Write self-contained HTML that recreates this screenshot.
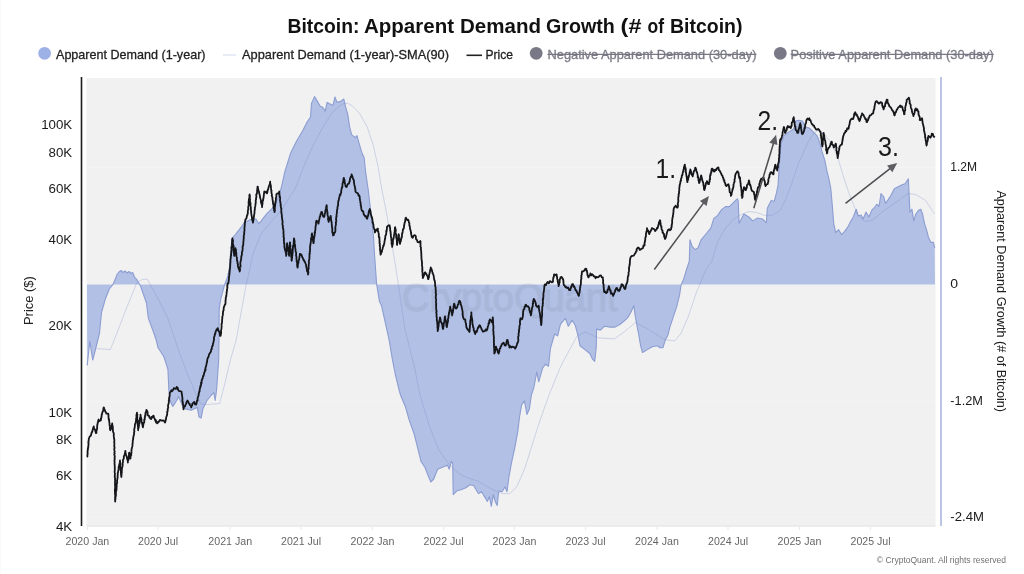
<!DOCTYPE html>
<html><head><meta charset="utf-8"><title>Bitcoin: Apparent Demand Growth</title>
<style>
html,body{margin:0;padding:0;background:#fff;}
body{width:1024px;height:574px;overflow:hidden;font-family:"Liberation Sans", sans-serif;}
svg{display:block;font-family:"Liberation Sans", sans-serif;}
</style></head><body>
<svg width="1024" height="574" viewBox="0 0 1024 574">
<rect x="0" y="0" width="1024" height="574" fill="#ffffff"/>
<rect x="0" y="0" width="1" height="574" fill="#fafafa"/>
<g opacity="0.999">
<!-- plot background -->
<rect x="86.5" y="78" width="849" height="448.5" fill="#f1f1f1"/>

<line x1="86.5" x2="935.5" y1="167.5" y2="167.5" stroke="#f4f4f4" stroke-width="1"/>
<line x1="86.5" x2="935.5" y1="284.5" y2="284.5" stroke="#f4f4f4" stroke-width="1"/>
<line x1="86.5" x2="935.5" y1="401.5" y2="401.5" stroke="#f4f4f4" stroke-width="1"/>
<line x1="86.5" x2="935.5" y1="517.5" y2="517.5" stroke="#f4f4f4" stroke-width="1"/>
<path d="M87,284.5 L87.2 365.4 L89.8 341.0 L92.7 360.0 L95.6 349.0 L99.5 333.0 L101.5 312.5 L105.4 298.8 L109.3 289.0 L113.2 284.2 L117.1 274.4 L119.0 272.0 L121.0 270.5 L123.0 272.5 L125.0 271.0 L127.0 273.0 L129.0 271.5 L131.0 273.5 L132.7 272.5 L134.5 277.0 L136.6 279.3 L140.5 286.0 L146.4 302.7 L148.4 318.4 L154.2 334.0 L156.2 340.0 L158.1 347.8 L164.0 357.0 L167.9 369.3 L168.9 390.8 L170.8 402.5 L172.8 406.4 L176.7 400.5 L178.6 396.6 L183.5 408.4 L191.3 410.3 L197.2 407.4 L199.1 417.1 L201.1 418.1 L203.0 408.4 L207.0 400.5 L210.9 395.7 L213.8 392.7 L215.2 400.5 L216.7 388.8 L218.7 359.5 L219.0 340.0 L219.2 308.6 L221.0 298.0 L224.5 285.0 L227.5 277.3 L229.5 267.7 L231.9 238.4 L235.4 234.5 L241.6 226.6 L244.2 222.7 L252.0 218.8 L256.0 219.0 L258.8 223.7 L261.2 220.8 L266.6 213.9 L272.5 208.1 L277.4 199.3 L281.3 187.6 L284.8 171.8 L289.1 158.0 L291.0 152.2 L296.9 140.5 L302.7 130.7 L306.6 122.9 L310.5 117.0 L311.5 103.4 L314.5 96.6 L317.4 101.4 L320.3 106.3 L322.7 107.3 L325.2 111.2 L327.1 102.4 L331.0 104.4 L333.0 105.3 L335.0 97.0 L336.9 102.4 L340.8 101.4 L343.8 99.0 L345.7 107.3 L347.7 114.1 L349.6 126.8 L351.6 134.6 L355.5 137.6 L357.0 135.6 L359.4 144.4 L361.7 152.2 L364.2 158.0 L365.6 171.8 L368.2 189.5 L370.2 207.1 L372.1 222.7 L373.7 239.0 L374.1 248.1 L376.6 284.0 L379.5 301.6 L381.5 305.6 L385.4 323.2 L389.3 340.8 L392.2 358.4 L395.2 374.0 L399.0 389.6 L400.5 395.0 L405.4 406.7 L409.3 420.4 L414.2 434.0 L418.1 449.7 L421.0 461.4 L424.9 467.3 L427.9 475.0 L430.8 482.0 L433.7 479.0 L437.6 469.2 L442.5 467.3 L447.4 465.3 L449.3 469.2 L451.3 461.4 L452.7 463.4 L453.2 494.6 L457.1 490.7 L461.0 489.7 L465.9 487.8 L469.8 484.8 L473.8 485.8 L476.7 490.7 L478.6 493.6 L481.6 491.7 L484.5 496.6 L487.4 501.4 L489.4 496.6 L491.3 506.3 L493.3 494.6 L495.2 501.4 L497.2 505.4 L498.8 490.7 L502.1 491.7 L505.0 486.8 L507.0 491.7 L508.9 477.0 L511.8 461.4 L514.8 447.7 L517.7 432.1 L519.6 416.5 L521.6 404.8 L524.5 400.9 L526.9 414.5 L529.4 408.7 L531.4 395.0 L533.8 387.7 L536.8 372.0 L538.7 381.8 L542.6 368.1 L545.5 364.2 L548.5 366.2 L550.4 348.6 L552.0 343.0 L554.6 334.0 L557.6 335.9 L560.5 324.2 L565.4 318.4 L568.3 326.2 L572.2 320.3 L575.2 325.2 L578.1 335.9 L580.0 345.7 L584.9 349.6 L589.8 353.5 L592.7 359.4 L594.7 361.3 L596.2 347.7 L596.6 329.1 L600.5 330.1 L604.5 326.2 L610.3 327.1 L615.2 327.1 L620.1 324.2 L625.0 320.3 L627.9 317.4 L630.8 312.5 L633.8 305.7 L635.3 316.4 L636.7 324.2 L638.6 334.0 L640.6 345.7 L642.5 352.5 L647.4 349.6 L652.3 346.7 L657.2 345.7 L660.1 347.7 L663.0 347.7 L665.0 340.8 L667.9 335.0 L669.9 327.1 L672.8 318.4 L676.7 306.6 L679.6 294.9 L681.0 285.2 L683.6 279.3 L686.5 269.5 L689.3 261.3 L689.9 239.8 L692.3 246.7 L695.2 249.6 L698.1 247.7 L701.1 239.8 L705.9 234.0 L710.8 228.1 L713.8 218.4 L717.7 215.4 L721.6 209.6 L725.5 206.6 L729.4 206.6 L733.3 202.7 L737.2 198.8 L738.2 200.8 L739.1 223.2 L742.1 217.4 L743.9 214.0 L748.8 217.0 L752.7 220.9 L757.6 218.0 L762.5 219.0 L766.4 222.9 L767.3 208.2 L771.2 200.4 L774.2 201.4 L776.1 194.5 L778.1 184.8 L779.1 167.0 L781.0 143.6 L783.9 135.8 L788.8 131.9 L793.7 129.0 L795.7 121.1 L798.6 120.2 L802.5 121.1 L805.4 127.0 L809.3 128.0 L814.2 132.9 L817.1 135.8 L820.1 143.6 L822.0 151.4 L825.0 161.2 L826.9 170.9 L828.9 178.8 L830.8 188.5 L832.2 204.3 L833.8 223.8 L835.7 232.6 L838.6 229.7 L841.6 234.6 L844.5 231.6 L847.4 227.7 L850.4 221.9 L853.3 217.0 L856.2 209.2 L858.2 216.0 L861.1 215.0 L863.0 219.0 L866.0 212.1 L868.9 217.0 L871.8 210.2 L874.8 207.2 L876.7 204.3 L879.1 206.2 L881.0 193.6 L883.6 196.5 L885.5 203.3 L888.4 199.4 L891.4 194.5 L894.3 188.7 L898.2 186.7 L902.1 184.8 L905.0 183.8 L908.4 178.9 L909.1 194.5 L909.9 212.1 L911.9 209.2 L913.8 220.9 L915.8 214.0 L918.7 210.2 L920.7 209.2 L922.6 214.0 L924.6 223.8 L926.5 229.7 L928.5 237.5 L931.0 242.4 L933.4 242.4 L934.7 248.2 L935,284.5 Z" fill="#b1c0e4" stroke="none"/>
<path d="M87.2 365.4 L89.8 341.0 L92.7 360.0 L95.6 349.0 L99.5 333.0 L101.5 312.5 L105.4 298.8 L109.3 289.0 L113.2 284.2 L117.1 274.4 L119.0 272.0 L121.0 270.5 L123.0 272.5 L125.0 271.0 L127.0 273.0 L129.0 271.5 L131.0 273.5 L132.7 272.5 L134.5 277.0 L136.6 279.3 L140.5 286.0 L146.4 302.7 L148.4 318.4 L154.2 334.0 L156.2 340.0 L158.1 347.8 L164.0 357.0 L167.9 369.3 L168.9 390.8 L170.8 402.5 L172.8 406.4 L176.7 400.5 L178.6 396.6 L183.5 408.4 L191.3 410.3 L197.2 407.4 L199.1 417.1 L201.1 418.1 L203.0 408.4 L207.0 400.5 L210.9 395.7 L213.8 392.7 L215.2 400.5 L216.7 388.8 L218.7 359.5 L219.0 340.0 L219.2 308.6 L221.0 298.0 L224.5 285.0 L227.5 277.3 L229.5 267.7 L231.9 238.4 L235.4 234.5 L241.6 226.6 L244.2 222.7 L252.0 218.8 L256.0 219.0 L258.8 223.7 L261.2 220.8 L266.6 213.9 L272.5 208.1 L277.4 199.3 L281.3 187.6 L284.8 171.8 L289.1 158.0 L291.0 152.2 L296.9 140.5 L302.7 130.7 L306.6 122.9 L310.5 117.0 L311.5 103.4 L314.5 96.6 L317.4 101.4 L320.3 106.3 L322.7 107.3 L325.2 111.2 L327.1 102.4 L331.0 104.4 L333.0 105.3 L335.0 97.0 L336.9 102.4 L340.8 101.4 L343.8 99.0 L345.7 107.3 L347.7 114.1 L349.6 126.8 L351.6 134.6 L355.5 137.6 L357.0 135.6 L359.4 144.4 L361.7 152.2 L364.2 158.0 L365.6 171.8 L368.2 189.5 L370.2 207.1 L372.1 222.7 L373.7 239.0 L374.1 248.1 L376.6 284.0 L379.5 301.6 L381.5 305.6 L385.4 323.2 L389.3 340.8 L392.2 358.4 L395.2 374.0 L399.0 389.6 L400.5 395.0 L405.4 406.7 L409.3 420.4 L414.2 434.0 L418.1 449.7 L421.0 461.4 L424.9 467.3 L427.9 475.0 L430.8 482.0 L433.7 479.0 L437.6 469.2 L442.5 467.3 L447.4 465.3 L449.3 469.2 L451.3 461.4 L452.7 463.4 L453.2 494.6 L457.1 490.7 L461.0 489.7 L465.9 487.8 L469.8 484.8 L473.8 485.8 L476.7 490.7 L478.6 493.6 L481.6 491.7 L484.5 496.6 L487.4 501.4 L489.4 496.6 L491.3 506.3 L493.3 494.6 L495.2 501.4 L497.2 505.4 L498.8 490.7 L502.1 491.7 L505.0 486.8 L507.0 491.7 L508.9 477.0 L511.8 461.4 L514.8 447.7 L517.7 432.1 L519.6 416.5 L521.6 404.8 L524.5 400.9 L526.9 414.5 L529.4 408.7 L531.4 395.0 L533.8 387.7 L536.8 372.0 L538.7 381.8 L542.6 368.1 L545.5 364.2 L548.5 366.2 L550.4 348.6 L552.0 343.0 L554.6 334.0 L557.6 335.9 L560.5 324.2 L565.4 318.4 L568.3 326.2 L572.2 320.3 L575.2 325.2 L578.1 335.9 L580.0 345.7 L584.9 349.6 L589.8 353.5 L592.7 359.4 L594.7 361.3 L596.2 347.7 L596.6 329.1 L600.5 330.1 L604.5 326.2 L610.3 327.1 L615.2 327.1 L620.1 324.2 L625.0 320.3 L627.9 317.4 L630.8 312.5 L633.8 305.7 L635.3 316.4 L636.7 324.2 L638.6 334.0 L640.6 345.7 L642.5 352.5 L647.4 349.6 L652.3 346.7 L657.2 345.7 L660.1 347.7 L663.0 347.7 L665.0 340.8 L667.9 335.0 L669.9 327.1 L672.8 318.4 L676.7 306.6 L679.6 294.9 L681.0 285.2 L683.6 279.3 L686.5 269.5 L689.3 261.3 L689.9 239.8 L692.3 246.7 L695.2 249.6 L698.1 247.7 L701.1 239.8 L705.9 234.0 L710.8 228.1 L713.8 218.4 L717.7 215.4 L721.6 209.6 L725.5 206.6 L729.4 206.6 L733.3 202.7 L737.2 198.8 L738.2 200.8 L739.1 223.2 L742.1 217.4 L743.9 214.0 L748.8 217.0 L752.7 220.9 L757.6 218.0 L762.5 219.0 L766.4 222.9 L767.3 208.2 L771.2 200.4 L774.2 201.4 L776.1 194.5 L778.1 184.8 L779.1 167.0 L781.0 143.6 L783.9 135.8 L788.8 131.9 L793.7 129.0 L795.7 121.1 L798.6 120.2 L802.5 121.1 L805.4 127.0 L809.3 128.0 L814.2 132.9 L817.1 135.8 L820.1 143.6 L822.0 151.4 L825.0 161.2 L826.9 170.9 L828.9 178.8 L830.8 188.5 L832.2 204.3 L833.8 223.8 L835.7 232.6 L838.6 229.7 L841.6 234.6 L844.5 231.6 L847.4 227.7 L850.4 221.9 L853.3 217.0 L856.2 209.2 L858.2 216.0 L861.1 215.0 L863.0 219.0 L866.0 212.1 L868.9 217.0 L871.8 210.2 L874.8 207.2 L876.7 204.3 L879.1 206.2 L881.0 193.6 L883.6 196.5 L885.5 203.3 L888.4 199.4 L891.4 194.5 L894.3 188.7 L898.2 186.7 L902.1 184.8 L905.0 183.8 L908.4 178.9 L909.1 194.5 L909.9 212.1 L911.9 209.2 L913.8 220.9 L915.8 214.0 L918.7 210.2 L920.7 209.2 L922.6 214.0 L924.6 223.8 L926.5 229.7 L928.5 237.5 L931.0 242.4 L933.4 242.4 L934.7 248.2" fill="none" stroke="#8c9dd2" stroke-width="1.1" stroke-linejoin="round"/>
<text x="402" y="311" font-size="38.5" fill="#5a6078" text-anchor="start" font-weight="normal" textLength="215.5" lengthAdjust="spacingAndGlyphs" opacity="0.09" stroke="#5a6078" stroke-width="1.3">CryptoQuant</text>
<polyline points="96.6,348.6 110.3,349.6 114.2,340.0 125.0,312.0 136.6,283.2 142.5,279.3 147.4,279.3 158.1,298.8 167.9,318.4 177.7,347.7 185.5,369.3 197.2,396.6 201.0,404.0 207.0,404.5 219.6,403.5 224.5,385.0 230.4,360.0 236.2,340.0 246.0,285.2 247.1,281.3 253.0,254.0 260.8,234.5 268.6,224.7 282.3,209.0 292.0,193.4 294.9,189.3 304.7,164.0 314.5,142.5 324.2,124.9 332.0,113.2 337.9,107.3 343.8,103.4 347.7,103.4 351.6,105.3 359.4,113.2 367.2,126.8 373.0,144.4 377.9,165.9 381.8,189.3 385.8,209.0 389.3,229.3 393.6,254.0 397.9,281.3 404.9,329.0 414.7,368.1 420.0,395.0 428.8,424.3 438.6,449.7 448.4,463.4 458.1,473.1 467.9,478.0 477.7,481.0 487.4,486.8 497.2,491.7 503.0,493.6 509.9,493.6 516.7,486.8 524.5,469.2 534.3,438.0 542.1,414.5 549.0,395.0 560.0,368.1 563.4,361.3 577.1,335.9 584.9,332.0 598.6,337.9 614.2,338.9 624.0,332.0 635.7,322.3 649.4,330.1 665.0,339.8 674.8,340.8 680.6,334.0 688.4,316.4 696.2,293.0 706.0,269.5 711.8,261.3 717.7,241.8 725.5,228.1 733.3,219.3 741.1,214.5 748.9,211.5 756.7,212.5 764.5,215.4 772.3,215.4 780.2,210.5 786.0,198.8 791.9,183.2 798.6,163.1 808.4,141.6 813.2,133.8 818.1,129.9 824.0,133.8 831.8,143.6 837.7,157.3 843.5,176.8 849.4,194.5 857.2,214.0 865.0,221.9 872.8,219.9 884.5,210.2 896.2,202.3 908.0,193.6 915.8,194.5 925.5,200.4 934.7,214.0" fill="none" stroke="#788cc8" stroke-opacity="0.34" stroke-width="0.9" stroke-linejoin="round"/>
<polyline points="87.4,456.6 87.4,455.0 87.6,453.8 87.7,453.3 87.5,452.5 87.6,451.3 87.7,449.7 87.9,449.9 87.9,447.9 88.2,448.0 88.3,446.1 88.5,444.5 88.6,443.8 88.3,442.5 88.5,442.6 88.5,441.2 88.8,439.8 88.8,439.0 89.5,437.0 89.8,436.3 90.7,436.0 91.1,434.9 91.2,434.2 91.6,432.7 92.0,432.5 92.1,431.3 92.5,431.0 92.9,428.9 93.3,427.6 93.4,427.9 93.7,426.4 93.9,427.3 94.1,428.7 94.8,429.5 95.2,429.9 95.4,431.4 95.7,432.1 96.0,433.2 96.4,432.9 96.4,431.4 96.4,430.4 96.9,429.9 97.2,427.5 97.1,427.2 97.2,425.8 97.4,424.1 97.6,424.2 97.8,422.2 98.1,422.3 98.2,420.5 98.6,419.5 99.6,421.1 100.5,420.5 100.9,420.2 100.9,418.3 101.2,418.2 101.7,415.8 101.6,415.0 101.9,414.4 102.3,413.0 102.3,412.3 102.7,411.6 103.3,410.8 103.3,409.6 103.6,407.6 103.8,407.4 104.4,409.0 104.9,410.1 105.0,410.3 105.3,411.9 105.7,411.8 106.4,413.7 108.3,413.7 108.3,414.2 108.5,415.0 108.4,416.2 108.6,417.6 108.7,419.5 109.1,419.3 109.1,420.7 109.2,421.4 109.6,423.9 109.5,424.0 109.5,424.4 109.7,425.8 110.1,426.6 109.8,429.0 110.2,428.7 110.3,430.3 110.6,428.4 110.9,429.2 111.3,427.7 111.3,426.1 111.5,425.9 111.9,424.9 112.2,423.4 112.2,424.0 112.6,426.3 112.8,427.0 112.9,428.0 112.7,428.6 112.9,428.8 112.9,430.3 113.1,432.0 113.6,432.7 113.8,434.6 113.9,434.6 113.7,435.4 113.8,436.4 114.1,438.6 114.2,439.0 114.4,440.0 114.3,441.5 114.1,442.3 114.5,443.5 114.4,444.0 114.2,445.5 114.3,446.6 114.6,447.0 114.3,448.8 114.5,448.6 114.2,449.6 114.7,451.6 114.3,452.7 114.7,453.4 114.4,454.3 114.3,454.5 114.8,456.5 114.6,457.9 114.6,458.8 114.8,458.8 114.5,460.0 114.5,461.4 114.6,462.2 114.5,464.0 114.6,464.3 114.8,466.0 114.7,467.0 114.8,467.4 114.8,468.4 114.8,468.7 114.8,469.9 114.6,471.9 114.7,472.4 115.0,473.5 114.8,474.5 114.9,475.9 114.7,476.5 114.8,477.1 115.1,478.5 115.0,479.9 115.2,480.4 115.0,481.5 115.0,482.8 115.0,483.5 115.0,485.2 115.1,486.1 115.2,486.1 115.1,488.2 115.2,488.0 114.9,489.4 114.9,490.1 114.9,491.8 115.2,493.1 114.9,493.9 115.2,494.0 115.3,496.3 115.0,497.3 115.1,497.6 115.4,499.1 115.0,499.5 115.2,500.3 115.2,501.6 115.1,500.3 115.5,498.7 115.5,498.4 115.4,497.2 115.8,496.4 115.6,496.2 116.0,495.1 115.8,492.9 115.9,492.7 116.1,490.6 116.3,490.8 116.6,488.7 116.3,488.8 116.6,487.4 116.7,486.0 116.6,484.2 117.0,483.8 116.8,483.6 117.2,482.3 117.0,481.3 117.1,480.3 117.4,478.4 117.6,478.3 117.6,475.9 117.8,475.0 117.7,473.8 117.8,472.9 118.1,472.3 118.2,470.9 118.6,469.8 118.6,468.5 118.7,467.2 118.8,466.1 119.3,466.0 119.2,464.7 119.7,463.0 119.8,462.5 119.8,462.2 120.0,460.5 120.0,461.5 120.3,463.3 120.2,464.1 120.5,464.8 120.4,465.4 120.3,466.1 120.4,468.1 120.6,468.2 120.6,470.3 121.1,471.1 120.9,471.4 120.9,472.8 121.0,473.8 121.1,475.7 121.5,476.0 121.4,477.0 121.4,476.7 121.5,474.7 121.5,473.7 121.8,472.9 121.8,471.9 121.8,470.4 121.9,469.6 122.0,468.0 122.2,467.3 122.4,466.7 122.6,465.9 122.7,465.2 122.6,463.3 123.0,462.0 123.0,461.8 123.0,460.5 123.0,460.0 123.7,458.6 123.9,457.8 123.8,456.2 124.3,455.7 124.7,454.6 124.8,453.7 125.1,452.2 125.3,450.8 125.4,451.0 125.6,452.7 125.8,454.6 126.3,455.3 126.5,456.4 126.7,456.3 127.1,458.7 127.2,459.4 127.5,459.6 127.8,461.0 127.9,462.5 127.8,461.0 128.3,459.8 128.5,460.0 128.5,457.9 128.6,457.4 128.9,456.2 129.0,454.2 128.9,453.4 129.2,452.7 129.5,453.3 129.6,453.8 129.6,455.2 130.1,457.0 130.3,457.2 130.4,458.6 130.6,457.5 130.7,455.9 131.1,455.0 131.3,455.2 130.9,453.3 131.5,453.2 131.4,450.9 131.5,451.0 131.6,449.4 131.8,448.2 132.3,446.5 132.4,446.1 132.6,445.4 132.4,444.7 132.7,443.0 132.8,441.2 132.7,440.9 133.1,439.5 133.1,438.5 133.3,438.3 133.3,437.1 133.8,435.0 134.0,435.0 134.1,433.2 134.0,432.4 134.4,431.6 134.2,430.3 134.3,428.6 134.4,428.9 134.7,427.3 134.8,427.0 134.9,424.8 135.2,423.6 135.3,423.9 135.7,422.6 135.8,421.8 136.1,420.1 136.1,418.2 136.3,417.8 136.5,417.1 136.4,415.0 136.9,414.1 136.8,413.5 137.0,412.7 137.0,414.1 137.4,414.4 137.3,415.5 137.3,416.7 137.2,417.3 137.3,419.6 137.5,419.5 137.8,421.8 137.6,421.4 137.6,422.4 137.7,423.4 137.7,424.7 138.0,426.8 138.1,427.1 138.0,428.3 138.1,429.0 138.2,430.3 138.1,428.9 138.7,427.6 138.7,427.4 139.0,425.6 138.9,424.6 139.1,423.9 139.5,423.6 139.6,421.1 139.3,421.2 139.9,419.8 139.9,417.9 140.0,418.5 140.4,417.3 140.6,415.2 140.5,414.6 140.5,415.0 140.9,417.0 141.3,418.2 141.4,419.3 141.5,420.0 141.5,421.5 141.8,422.8 142.2,422.7 142.1,423.7 142.6,425.5 142.5,425.5 142.9,427.3 143.1,426.4 143.3,424.7 143.6,423.3 143.6,423.1 144.2,422.4 144.3,421.1 144.2,419.6 144.8,419.4 144.7,417.2 145.0,417.3 145.1,415.5 145.5,415.7 145.4,413.1 145.7,412.7 146.1,411.3 146.3,411.3 146.4,409.8 146.7,410.2 147.3,411.4 147.6,412.2 147.6,414.2 148.0,415.5 148.4,415.6 149.0,415.9 149.5,417.4 150.3,418.6 151.1,419.0 151.6,416.8 152.3,417.6 153.2,415.6 153.5,415.6 154.0,417.3 154.9,419.4 155.3,420.6 155.9,420.1 156.0,422.4 156.7,421.4 157.1,423.4 158.2,422.3 159.0,421.5 159.9,419.9 161.0,420.5 161.9,420.6 163.2,420.4 164.2,421.2 165.0,422.5 165.2,422.1 165.7,420.4 165.6,419.5 166.0,419.4 166.2,417.3 166.8,415.7 166.9,415.6 167.0,415.1 167.3,412.8 167.1,411.8 167.7,411.1 167.7,411.1 167.7,409.0 167.9,408.4 168.3,407.5 168.0,406.7 168.2,404.9 168.2,404.6 168.7,403.4 168.9,401.3 168.7,401.0 169.1,400.8 169.0,398.6 169.1,397.9 169.5,396.4 169.6,396.2 169.7,395.3 169.7,393.5 169.8,392.7 170.5,391.7 171.5,390.2 172.0,391.3 173.0,390.0 173.8,388.1 174.6,388.6 175.7,388.9 176.7,386.9 177.5,389.0 177.7,388.0 178.2,390.0 179.0,391.0 180.4,391.2 181.6,391.8 181.6,392.7 181.9,394.1 182.1,395.5 182.1,395.3 182.3,396.6 182.3,397.8 182.5,398.5 182.4,399.6 182.4,401.7 182.8,401.8 182.8,403.9 182.9,403.7 183.2,405.4 183.4,405.6 183.3,407.8 183.6,409.0 183.5,409.3 183.7,407.9 184.2,406.7 185.0,406.5 185.4,405.1 185.8,404.3 186.0,404.0 186.8,401.6 187.0,401.7 187.4,400.5 187.8,401.2 188.3,401.8 188.9,403.7 189.7,403.8 189.9,405.0 190.8,405.7 191.3,407.4 191.6,405.8 192.2,405.5 192.3,403.6 192.8,403.6 193.3,402.5 194.3,402.0 195.1,404.4 196.2,404.5 196.4,403.1 196.6,403.4 196.8,401.7 197.1,400.4 197.6,400.5 197.6,398.0 198.0,397.1 197.9,397.4 198.3,396.2 198.6,395.4 198.8,393.1 199.1,392.7 199.1,391.7 199.6,391.4 199.6,389.8 200.0,388.5 200.1,387.1 200.5,387.2 200.5,385.4 201.1,385.2 201.0,382.6 201.6,383.1 201.6,380.4 202.1,379.9 202.1,379.1 202.7,378.4 203.0,376.5 203.3,375.6 203.5,375.9 204.1,373.6 204.1,373.0 204.6,372.0 205.0,371.2 205.0,369.7 205.6,369.9 205.4,368.2 206.0,366.2 206.3,365.3 206.4,365.0 206.6,363.5 206.7,363.0 207.0,362.1 207.2,360.6 207.2,359.9 207.7,358.2 207.9,357.6 208.5,357.2 208.9,354.9 209.4,353.8 209.7,353.5 210.2,352.6 210.9,351.7 211.1,349.9 211.5,349.0 211.7,349.3 211.9,347.0 212.1,346.6 212.6,345.2 212.8,345.8 212.9,344.5 212.9,343.8 213.3,342.8 213.8,340.4 213.8,340.0 214.1,339.8 213.9,337.7 214.4,336.4 214.7,335.6 214.8,334.4 214.8,334.0 215.3,333.9 215.6,331.5 216.3,330.7 216.5,329.4 217.0,330.0 217.7,328.1 218.2,329.9 218.3,330.6 218.6,331.1 219.2,331.7 219.7,333.1 219.9,334.7 220.0,335.9 220.6,335.9 220.8,334.7 221.0,333.4 221.2,332.8 221.0,332.1 221.1,330.0 221.4,328.7 221.5,328.0 221.5,328.1 221.6,326.5 221.6,324.4 221.6,323.6 222.0,323.0 222.0,322.0 222.1,321.6 222.1,319.5 222.4,318.1 222.2,317.6 222.4,316.6 222.6,316.0 222.9,314.3 223.0,313.7 222.9,313.5 223.1,311.1 223.2,310.9 223.7,310.1 223.6,308.6 223.9,307.2 224.0,306.9 224.6,305.4 224.9,304.6 225.4,304.1 225.5,302.7 225.5,302.3 225.5,300.7 225.8,299.2 225.7,299.0 225.8,297.6 226.4,295.9 226.2,295.7 226.4,294.7 226.7,292.9 226.6,292.1 226.6,292.0 227.1,290.7 226.8,289.9 227.3,288.2 227.4,287.2 227.2,285.6 227.5,285.2 227.6,283.3 228.0,283.7 228.4,282.9 228.6,281.3 228.8,279.9 228.8,279.1 229.0,278.3 228.9,277.4 229.3,275.7 229.4,274.3 229.2,273.7 229.5,273.8 229.6,271.8 229.8,270.8 229.6,270.7 229.9,269.3 230.0,268.7 230.0,267.5 230.2,266.5 230.2,265.2 230.3,263.5 230.3,263.0 230.5,261.8 230.4,261.5 230.5,259.0 230.6,259.4 230.8,257.1 230.7,256.0 231.1,255.9 231.2,255.1 231.0,253.8 231.2,253.2 231.5,252.3 231.2,251.2 231.8,250.3 231.4,248.1 231.5,246.8 232.0,247.0 232.0,246.1 232.0,244.2 231.9,242.8 232.3,242.0 232.1,241.3 232.1,240.0 232.3,239.8 232.5,238.4 232.5,239.1 233.0,240.5 233.0,241.7 232.7,242.4 233.0,244.0 233.1,244.9 233.3,245.1 233.6,246.0 233.7,247.1 233.4,248.2 233.9,250.5 233.6,250.7 233.9,252.3 233.9,252.8 234.1,254.4 234.2,255.6 234.4,255.9 234.4,254.3 234.8,253.7 234.6,252.8 234.8,251.9 235.2,250.8 235.3,249.0 235.4,248.1 235.5,249.0 235.9,249.5 236.1,250.4 235.9,251.8 236.4,253.3 236.3,254.9 236.3,255.3 236.6,256.8 236.9,257.6 236.9,258.1 236.9,260.0 237.3,260.9 237.2,261.4 237.7,262.7 237.5,263.5 238.0,264.2 237.8,265.3 238.2,267.3 238.3,267.7 238.5,268.0 238.9,269.3 239.4,269.9 239.7,271.6 239.7,270.0 240.2,269.8 239.8,269.1 239.9,267.1 240.5,266.7 240.5,265.1 240.3,264.3 240.4,262.5 240.6,261.2 240.7,261.4 240.9,259.8 241.2,258.8 241.3,257.7 241.2,256.9 241.5,256.1 241.9,254.5 241.9,254.0 241.9,252.1 242.2,252.1 242.4,250.8 242.6,249.7 242.7,248.3 242.6,247.5 242.7,246.1 243.2,245.6 243.2,244.2 243.4,242.8 243.3,242.1 243.5,241.0 243.6,240.8 243.5,239.4 243.9,237.9 243.8,237.9 243.7,236.1 243.8,235.5 244.3,234.1 244.0,233.1 244.3,232.3 244.3,231.2 244.6,230.0 244.5,229.7 244.4,228.2 244.6,227.3 244.6,226.7 244.8,224.1 244.8,223.7 244.8,222.7 245.1,222.1 245.2,220.8 245.5,219.3 245.8,219.3 246.6,217.9 246.6,217.5 247.1,215.3 247.5,214.9 247.4,214.3 247.9,213.1 247.8,211.9 247.8,211.6 248.0,210.0 248.3,209.3 248.2,207.4 248.4,206.1 248.6,205.4 248.7,204.3 248.6,203.2 248.7,202.1 248.6,201.9 248.9,200.1 249.0,199.5 249.1,198.7 249.4,197.2 249.6,197.0 249.3,196.0 249.6,194.4 249.9,195.9 249.6,197.0 249.9,196.7 249.7,199.2 250.1,199.1 249.9,200.0 250.1,202.0 250.2,202.0 250.6,204.1 250.3,205.3 250.6,206.1 250.8,207.3 250.9,208.3 250.7,209.1 251.0,210.2 251.0,211.4 251.2,211.4 251.1,212.3 251.3,213.2 251.4,214.9 251.6,215.4 251.9,217.1 252.1,218.9 252.1,220.0 252.5,220.6 252.9,222.2 253.0,222.7 253.1,221.5 253.5,219.8 253.5,219.7 253.4,218.6 253.8,218.1 253.8,217.1 254.1,215.2 254.4,213.3 254.5,213.3 254.5,212.0 254.5,211.6 254.7,209.9 254.9,209.4 254.8,207.8 255.1,207.0 255.4,205.6 255.5,204.7 255.5,203.5 255.6,203.7 255.8,202.3 255.7,200.5 255.8,200.0 256.1,199.3 256.0,198.1 256.5,196.8 256.2,195.4 256.3,194.2 256.9,193.9 256.9,193.2 257.1,191.9 257.1,190.9 257.2,189.8 257.4,188.2 257.5,187.5 257.5,186.6 257.9,186.8 257.9,187.7 258.4,190.3 258.6,190.3 258.9,192.0 259.1,192.0 259.2,193.3 259.5,194.3 259.8,195.4 260.1,197.2 260.0,197.6 260.2,197.9 260.8,199.8 261.1,200.6 260.8,201.6 261.3,203.6 261.7,203.9 261.6,204.3 262.0,205.5 262.1,207.1 262.1,205.2 262.1,205.3 262.4,204.8 262.5,203.6 262.6,201.1 263.1,200.4 263.2,199.3 263.0,199.2 263.5,198.3 263.7,196.0 263.8,196.0 263.8,195.4 263.9,194.4 264.3,191.7 264.3,191.5 265.0,192.5 266.3,191.6 267.0,193.4 267.2,192.9 267.4,192.1 267.8,189.6 268.0,189.6 268.3,188.9 268.4,188.1 268.8,186.8 269.2,185.4 269.3,185.2 269.9,184.2 270.0,182.3 270.2,181.7 270.1,183.5 270.6,184.3 270.5,185.0 271.0,186.4 270.9,186.6 271.0,188.6 271.1,189.3 271.3,190.7 271.6,190.7 271.3,191.7 271.6,193.2 272.0,194.8 271.7,195.7 272.2,196.8 272.3,196.8 272.5,198.8 272.5,199.3 272.8,201.1 272.8,200.7 273.0,203.0 273.0,204.0 273.5,204.1 273.6,206.0 273.6,206.2 273.7,208.2 274.1,208.8 274.0,210.4 274.5,210.5 274.5,212.0 274.7,211.6 274.9,210.0 274.8,209.0 274.8,207.3 274.9,207.2 275.1,205.9 275.2,204.8 275.2,203.0 275.8,202.5 275.4,201.9 275.9,200.0 275.9,199.3 276.0,197.7 275.8,198.3 276.4,196.4 276.3,195.0 276.4,194.4 277.3,193.5 278.1,193.6 278.7,193.4 279.3,191.5 279.3,191.8 279.4,193.0 279.4,193.8 279.7,196.2 279.8,197.4 280.1,196.9 280.1,198.5 280.0,200.5 280.1,200.8 280.4,202.5 280.5,202.6 280.5,203.3 280.9,205.7 280.6,205.1 280.8,206.7 281.2,208.6 281.3,208.2 281.3,210.3 281.3,211.0 281.5,212.8 281.3,212.5 281.8,214.8 281.8,214.8 281.9,216.6 281.8,216.9 282.0,217.6 282.2,218.7 282.2,219.7 282.5,220.5 282.6,221.9 282.4,224.1 282.6,225.2 283.0,226.1 282.8,226.4 282.9,228.3 283.2,228.6 283.4,229.8 283.3,230.4 283.6,231.6 283.6,232.1 283.4,233.0 283.7,234.8 283.5,236.4 283.7,236.7 283.7,237.5 284.1,238.6 283.8,239.9 284.0,241.6 284.0,242.7 284.0,243.6 284.4,243.5 284.4,244.7 284.3,245.6 284.5,247.9 284.6,248.1 285.1,250.0 284.9,249.9 285.5,250.6 285.6,252.2 286.0,252.8 286.1,254.5 286.2,255.9 286.1,254.0 286.5,253.8 286.3,252.6 286.7,251.2 286.6,250.0 286.5,250.0 286.8,248.0 286.6,246.8 286.9,246.4 286.8,244.8 287.1,244.6 287.1,243.2 287.4,244.4 287.3,244.6 287.7,246.2 287.9,246.7 288.1,248.2 288.3,250.2 288.3,249.8 288.6,251.6 288.8,252.3 288.6,254.4 288.9,254.3 289.1,255.9 289.1,255.0 289.0,253.8 289.3,252.8 289.2,252.1 289.6,251.3 289.4,250.0 289.5,249.0 289.4,248.1 290.0,246.5 289.8,245.5 289.9,243.6 290.2,242.9 290.0,242.3 289.9,242.7 290.1,244.9 290.0,244.7 290.5,245.9 290.2,247.6 290.6,248.5 290.7,248.8 290.9,250.9 290.6,250.9 290.9,252.6 290.9,253.0 291.0,254.0 291.2,256.2 291.1,256.8 291.5,257.2 291.6,259.5 291.5,259.6 291.6,260.8 291.9,259.8 291.8,259.5 292.1,257.5 291.9,256.5 292.1,256.5 292.4,255.4 292.5,254.2 292.2,252.7 292.8,252.4 292.6,250.5 292.9,249.4 292.9,247.9 293.0,247.6 292.9,245.9 293.5,246.0 293.6,244.7 293.6,244.1 293.8,241.7 293.7,241.1 293.9,240.1 293.9,240.1 294.0,238.4 294.2,239.0 294.3,240.4 294.7,241.2 294.5,242.8 294.5,243.8 295.1,244.7 294.9,245.7 295.2,246.2 295.1,247.2 295.4,248.7 295.5,249.5 295.5,251.0 295.9,252.0 296.2,253.2 296.1,254.3 296.1,255.5 296.3,256.3 296.5,257.2 296.4,257.9 296.5,259.3 296.7,260.5 296.6,261.2 297.1,262.0 297.1,263.5 297.1,265.4 297.2,266.1 297.2,265.9 297.5,267.7 297.9,266.5 297.6,265.4 298.0,265.0 298.0,263.0 298.6,262.8 298.4,261.1 298.7,260.6 299.0,259.9 299.3,258.2 299.4,257.6 299.6,256.1 299.8,255.4 299.8,254.0 300.8,254.1 301.5,254.8 302.2,257.1 302.8,257.9 303.3,259.9 303.8,259.7 304.4,261.6 304.8,261.5 305.2,262.7 305.7,263.8 306.0,264.4 306.1,266.0 306.3,266.7 306.8,268.7 306.8,269.0 306.9,269.8 307.1,271.4 307.6,271.6 308.0,273.1 308.0,274.5 308.2,274.0 308.4,272.0 308.2,272.1 308.1,269.7 308.4,269.4 308.7,268.8 308.6,268.2 308.6,266.4 308.8,265.2 308.7,264.5 308.8,264.1 309.0,262.4 308.8,261.1 309.0,260.4 309.2,259.9 309.5,258.2 309.3,257.4 309.6,256.0 309.5,255.7 309.4,253.9 309.9,253.7 309.7,251.5 310.0,251.5 310.0,250.9 310.1,249.0 310.0,248.1 310.0,246.7 310.3,246.0 310.3,244.4 310.6,244.1 310.6,243.7 310.9,241.1 311.0,241.3 311.0,240.1 311.0,238.4 311.6,237.8 311.7,236.1 311.7,235.7 311.7,234.8 312.0,233.5 312.2,235.4 312.4,235.5 312.3,236.1 312.8,237.1 312.6,238.3 313.0,240.5 313.2,241.6 313.1,241.3 313.5,243.2 313.8,241.9 313.9,240.9 313.7,239.8 313.8,239.8 314.2,237.9 314.3,236.9 314.2,236.7 314.6,235.8 314.7,234.2 314.7,232.2 315.2,232.6 315.0,231.7 315.4,229.6 315.4,229.7 315.5,228.7 315.5,226.7 315.9,225.4 315.8,225.5 316.0,224.4 316.0,222.3 316.2,221.3 316.4,220.8 317.3,221.3 317.8,221.8 318.4,223.7 318.7,222.5 318.8,220.9 318.9,221.4 319.3,219.3 319.5,218.4 319.7,217.0 320.2,216.6 320.2,216.3 320.4,214.5 321.0,213.3 321.0,213.6 321.3,212.0 322.1,212.2 322.4,214.5 323.0,216.0 323.6,216.9 324.3,216.9 324.5,215.3 324.7,214.1 325.0,213.3 325.3,212.8 325.3,211.1 325.6,210.0 325.9,208.8 326.0,208.5 326.1,207.8 326.3,206.5 326.6,205.2 326.8,205.9 326.8,206.6 326.8,208.9 327.0,209.6 327.0,210.5 327.3,211.4 327.4,211.7 327.5,213.0 327.5,214.9 327.7,215.4 328.2,217.1 328.3,218.3 328.0,218.3 328.1,220.0 328.6,220.5 328.6,221.8 328.9,221.1 329.4,219.3 329.8,218.6 330.1,217.2 330.2,217.7 330.7,215.9 330.9,217.3 330.7,217.2 330.9,218.5 331.1,219.8 331.1,220.7 331.5,221.5 331.7,223.2 331.8,223.7 331.8,225.4 331.8,225.3 332.2,227.7 332.0,227.4 332.5,229.4 332.2,229.8 332.3,231.8 332.5,233.0 332.9,232.7 333.0,234.2 333.0,235.4 333.8,235.2 334.2,232.5 335.0,232.5 335.3,231.4 335.4,230.8 335.4,230.0 335.4,228.3 335.3,227.7 335.5,226.4 335.9,224.7 335.9,223.6 336.0,223.8 335.8,222.3 336.3,221.5 336.2,219.8 336.0,219.0 336.3,217.7 336.3,216.5 336.6,216.4 336.5,214.7 336.7,214.0 337.0,212.8 336.8,212.7 337.0,211.0 337.0,210.0 337.3,209.4 337.5,208.3 337.5,207.0 337.9,205.6 338.2,205.2 338.0,203.2 338.3,202.0 338.3,201.0 338.6,200.7 338.9,199.3 339.2,197.6 339.4,197.3 339.7,195.7 339.9,194.5 340.6,194.9 340.5,193.9 341.2,192.6 341.2,191.5 341.3,190.4 341.6,188.8 341.9,187.5 342.2,187.5 342.3,187.0 342.5,184.7 342.5,183.5 342.6,183.6 343.2,181.7 343.1,181.2 343.6,180.7 343.4,179.4 343.8,177.8 344.2,179.2 344.1,179.2 344.6,180.4 344.6,181.8 344.8,183.3 344.9,182.8 345.3,184.9 345.6,186.0 345.7,186.6 346.7,187.0 347.3,185.1 348.0,183.9 349.0,183.7 349.3,181.9 349.7,181.0 349.8,181.5 350.0,178.6 350.4,177.9 350.8,176.5 351.2,177.1 351.5,175.2 351.6,174.3 351.9,175.7 352.4,176.3 352.7,177.5 353.3,179.4 353.6,179.8 354.0,180.3 353.8,181.8 354.1,182.7 354.1,183.3 354.4,185.0 354.9,186.9 355.0,188.1 355.2,188.5 355.3,188.6 355.4,190.6 355.5,191.5 356.2,192.5 357.3,193.0 357.9,193.3 358.5,195.6 359.4,195.4 359.3,195.9 359.8,197.4 359.7,198.8 360.0,199.7 360.1,200.7 360.4,201.5 360.3,202.2 360.8,203.9 360.6,205.4 360.8,205.2 361.1,206.5 361.2,208.0 361.4,209.0 361.7,210.1 362.2,211.0 362.9,211.0 363.3,212.0 363.8,214.7 364.3,214.9 365.1,216.4 365.9,215.9 366.7,218.4 367.2,218.8 367.3,218.4 367.7,216.2 368.2,216.0 368.4,214.2 368.6,213.1 368.6,212.7 368.8,212.1 369.1,210.6 369.6,209.8 369.8,209.0 370.2,210.2 370.4,211.1 370.7,212.6 370.6,213.4 370.9,214.4 371.3,215.5 371.2,215.6 371.8,217.7 372.0,217.0 372.1,218.8 372.4,219.1 372.5,221.3 372.5,222.5 373.0,222.3 373.0,223.6 373.5,224.8 373.4,224.8 373.6,227.2 373.8,227.7 374.1,228.9 374.3,228.9 374.8,230.6 374.9,232.1 375.0,232.5 375.9,230.4 376.2,229.7 377.0,230.4 377.6,228.6 377.9,228.8 377.8,231.2 378.3,231.5 378.3,232.2 378.7,233.6 378.9,235.0 378.7,235.6 379.0,237.6 379.4,237.2 379.5,239.0 379.4,239.8 379.6,241.2 379.6,241.9 379.5,243.3 379.8,243.5 379.9,246.1 379.7,245.8 380.1,247.0 380.0,248.4 380.0,249.6 380.2,251.2 380.5,250.8 380.4,253.0 380.6,254.1 380.5,254.7 380.9,254.0 381.1,252.3 381.6,252.5 382.0,251.2 382.0,250.3 382.6,248.9 382.8,247.6 383.1,246.7 383.2,245.6 383.7,245.9 384.1,243.7 384.4,243.0 384.5,241.5 384.7,240.3 384.7,240.5 385.1,238.8 385.3,237.5 385.3,236.0 385.6,235.4 386.0,234.8 386.2,233.4 386.4,232.8 386.2,231.0 386.6,231.4 386.7,230.0 386.9,229.1 386.9,227.4 387.3,226.4 388.7,225.3 389.7,225.4 389.7,225.6 389.8,227.1 390.2,228.0 390.1,229.0 390.3,231.1 390.5,231.0 390.7,233.3 390.7,232.9 390.9,235.2 390.8,235.0 390.9,236.7 391.3,237.9 391.5,238.2 391.3,240.2 391.6,240.6 391.7,241.5 391.5,242.7 391.6,244.0 391.9,244.8 392.1,245.5 392.2,246.9 392.3,245.0 392.7,244.9 392.9,243.0 392.9,243.2 392.9,241.0 393.0,240.1 393.4,239.0 393.6,238.5 393.6,237.8 393.8,236.9 394.0,235.3 394.2,234.1 394.4,233.9 394.5,232.1 394.7,232.3 394.7,230.0 394.9,230.1 394.9,227.5 395.2,227.3 395.3,228.6 395.6,229.1 395.8,230.0 395.8,230.8 395.5,231.9 395.7,233.5 396.0,234.0 396.3,235.4 396.0,236.1 396.4,238.4 396.3,237.9 396.7,239.3 396.9,240.8 396.8,241.5 397.0,242.8 396.9,244.5 397.1,244.9 397.1,244.2 397.2,243.0 397.5,242.3 397.5,240.7 397.9,240.3 398.3,238.7 398.1,237.0 398.3,236.2 398.4,234.8 398.7,234.2 399.0,235.5 398.9,237.2 399.0,237.6 399.1,239.1 399.6,239.2 399.7,241.2 399.6,241.5 399.8,243.5 400.0,243.9 400.1,243.1 400.5,241.6 400.8,241.3 400.9,240.3 401.2,239.0 401.7,236.8 401.9,237.2 402.0,235.2 402.1,233.4 402.2,234.1 402.4,233.0 402.7,231.7 402.9,229.7 403.4,228.6 403.4,229.1 403.8,228.1 404.2,225.5 404.0,226.0 404.5,223.6 404.6,223.0 404.8,221.8 404.8,222.4 405.2,221.2 405.3,219.5 405.5,218.4 405.9,217.6 406.5,219.0 407.2,220.1 408.1,219.6 408.8,221.5 408.9,222.5 409.4,223.3 409.3,225.5 409.8,226.1 409.7,226.1 409.9,227.0 410.0,228.8 410.4,229.9 410.5,230.0 410.9,232.2 411.0,233.0 411.3,234.8 411.6,235.4 411.5,235.7 411.8,237.1 412.7,237.8 413.7,235.5 414.7,235.2 415.1,235.4 415.8,236.1 416.0,239.0 416.2,239.3 416.7,239.5 417.0,240.2 417.6,242.0 419.1,242.3 420.2,241.0 420.5,241.3 420.5,242.8 420.5,244.2 420.5,245.9 420.4,246.6 420.9,247.3 420.9,249.1 420.8,249.5 421.1,250.2 421.2,251.2 421.2,252.6 421.3,253.2 421.4,254.6 421.3,255.7 421.5,256.6 421.4,258.3 421.6,259.0 421.7,259.6 421.6,260.1 422.0,261.8 421.9,262.8 422.1,263.3 421.9,265.3 422.1,266.0 422.3,267.5 422.4,267.1 422.2,269.4 422.5,269.3 422.3,270.5 422.3,271.7 422.7,273.0 422.6,273.3 422.6,275.8 422.9,276.0 422.8,277.6 422.9,278.1 423.4,276.4 423.8,275.9 424.2,274.7 424.5,273.9 424.9,272.3 425.4,272.3 425.7,273.4 426.0,273.6 426.8,274.7 427.0,275.6 427.7,276.3 428.0,278.9 428.4,279.1 428.5,277.9 429.0,277.2 429.0,275.1 429.2,274.6 429.6,273.4 429.6,273.0 430.0,271.4 430.0,270.7 430.5,269.0 430.7,268.8 430.7,267.4 431.0,268.7 431.3,268.5 431.9,270.1 432.1,271.3 432.7,272.8 432.6,273.4 433.2,274.2 433.4,275.1 433.8,276.0 433.8,277.8 434.0,278.1 434.2,279.7 434.5,280.5 434.6,280.2 434.9,282.1 435.1,283.5 435.2,284.0 435.1,284.5 435.2,286.5 435.3,286.3 435.7,288.1 435.5,289.3 435.8,290.0 435.9,291.0 435.6,292.3 435.8,293.2 436.1,294.6 436.1,294.6 435.8,296.2 435.7,297.9 435.9,297.8 435.9,298.9 436.2,300.3 436.0,301.2 435.8,302.0 436.3,303.8 436.3,304.0 436.0,304.7 436.2,306.2 436.1,307.4 436.2,308.3 436.2,309.5 436.4,310.0 436.6,311.6 436.2,312.3 436.5,313.4 436.6,314.3 436.5,316.1 436.6,317.0 436.9,317.8 436.8,319.4 436.9,320.3 436.8,320.7 437.1,321.1 437.3,322.1 437.2,323.3 437.5,325.0 437.5,325.9 437.5,327.2 437.4,327.5 437.7,328.4 437.8,329.5 437.7,331.0 437.7,329.2 438.2,329.7 438.2,328.1 438.3,327.5 438.7,325.1 438.5,325.0 438.7,324.2 439.0,322.1 439.3,321.2 439.5,319.9 439.9,319.1 440.0,317.7 440.0,317.3 440.4,319.2 440.4,318.4 440.7,320.5 440.9,321.3 441.0,322.1 441.6,323.0 441.8,323.4 442.2,324.4 442.5,327.0 442.7,327.1 442.6,327.7 443.0,329.0 443.3,327.9 443.5,326.2 443.5,326.5 443.7,324.9 443.6,323.1 443.9,323.4 444.3,321.2 444.5,319.8 444.5,320.4 444.6,319.3 444.9,316.7 445.0,316.4 445.1,317.4 445.3,319.0 445.4,320.1 445.7,319.9 446.0,321.0 446.2,323.3 446.4,323.8 446.3,325.0 446.5,326.3 446.9,327.1 446.9,326.2 447.2,324.8 447.5,323.4 447.4,323.8 447.6,322.6 448.1,320.9 447.9,319.2 448.4,318.2 448.4,317.9 448.4,316.8 448.5,315.9 448.9,314.6 448.9,313.6 449.1,312.1 449.2,312.4 449.5,311.4 449.5,310.4 449.9,309.2 450.1,308.0 450.2,306.6 450.3,308.0 450.5,308.1 450.6,309.3 451.1,310.1 451.5,310.7 451.6,312.0 451.8,314.0 452.1,313.6 452.2,315.4 452.2,314.5 452.8,312.5 452.8,312.5 453.0,310.9 453.2,310.0 453.4,308.2 453.6,307.8 453.5,306.2 453.6,306.2 454.0,304.2 454.1,303.7 454.4,303.9 454.7,305.1 455.2,307.6 455.9,308.2 456.1,308.6 456.5,307.6 457.1,307.5 457.5,305.9 457.7,304.9 458.5,304.3 458.5,303.1 459.1,301.0 459.6,300.7 460.2,302.0 460.4,301.9 460.8,304.5 461.1,305.1 461.4,306.2 461.6,306.6 461.8,307.6 462.1,309.2 462.2,309.5 462.4,310.9 462.6,311.3 462.7,313.5 462.5,314.7 462.7,314.6 462.9,315.8 463.1,317.3 464.1,319.3 465.1,319.3 465.4,320.8 465.4,322.0 465.8,323.0 466.1,324.3 466.0,324.2 466.3,326.6 466.4,327.1 466.9,328.3 467.8,329.7 468.0,330.0 468.6,330.1 469.4,332.0 469.7,330.8 469.7,329.9 469.6,328.4 469.7,328.5 470.0,326.5 469.8,325.5 470.2,324.7 470.3,324.3 470.1,323.1 470.2,322.3 470.3,320.3 470.8,319.5 470.6,319.3 470.9,318.3 470.8,316.6 471.2,315.6 471.3,314.0 471.4,313.0 471.3,312.5 471.4,312.7 471.4,315.3 471.6,316.2 471.7,316.4 471.7,317.8 472.2,318.8 472.1,320.5 472.5,321.1 472.2,322.1 472.5,323.7 472.6,324.3 472.8,324.8 472.9,326.1 473.2,327.4 473.7,328.1 473.7,330.0 473.8,330.7 474.4,331.1 474.6,332.5 475.1,333.5 475.2,334.0 475.8,332.0 476.1,331.2 476.9,331.8 477.2,330.0 477.5,329.2 478.2,327.1 478.5,327.7 479.1,325.7 479.5,325.2 480.2,325.7 480.6,326.9 481.3,328.4 481.7,329.4 482.1,330.0 483.0,331.7 484.1,331.2 485.0,331.0 485.7,329.4 486.6,330.5 487.3,329.0 487.7,327.7 487.6,327.1 488.3,325.5 488.5,324.5 488.5,323.3 488.8,323.0 489.4,323.1 489.2,320.9 489.9,319.7 489.9,319.3 490.4,320.1 491.0,320.7 491.8,322.2 491.9,321.0 492.4,319.8 492.3,320.0 492.6,318.9 492.8,317.3 492.9,318.8 492.8,318.8 493.1,320.3 493.0,321.7 493.2,322.1 493.0,324.1 493.1,324.1 493.2,325.1 493.4,325.8 493.4,327.6 493.3,329.3 493.3,329.2 493.2,330.7 493.6,331.9 493.5,333.1 493.4,333.4 493.7,335.4 493.7,336.0 493.8,336.6 494.0,338.2 493.8,338.8 493.8,339.7 494.0,340.7 493.8,342.5 494.0,343.0 494.1,344.7 493.9,344.8 493.9,346.0 494.1,347.7 494.3,348.4 494.2,349.4 494.2,350.9 494.5,351.9 494.2,352.7 494.4,353.5 494.7,352.5 495.0,352.2 495.1,351.1 495.2,350.2 495.1,348.9 495.6,347.8 495.7,346.6 496.0,346.7 496.6,349.3 496.9,349.0 497.3,349.7 497.9,352.5 498.4,352.2 498.7,353.5 499.1,351.7 499.4,351.2 499.3,350.8 499.6,349.1 499.8,348.5 500.4,348.2 500.6,346.6 501.1,346.4 501.9,344.0 502.9,343.3 503.6,342.7 504.1,343.9 504.7,345.4 505.5,345.7 505.7,345.4 506.3,343.8 506.3,343.3 506.6,341.8 507.1,339.9 507.5,339.8 507.8,341.2 508.0,341.6 508.2,342.9 508.3,344.4 508.9,345.2 509.2,345.3 509.4,345.8 509.4,347.6 510.4,346.2 511.3,347.5 512.3,346.6 513.4,347.1 514.2,347.1 515.3,348.6 515.7,347.2 516.0,347.1 516.6,345.5 516.8,345.1 517.2,343.2 517.8,342.7 517.9,342.0 518.3,341.0 518.3,340.2 518.3,338.8 518.1,336.9 518.2,337.0 518.7,335.5 518.5,334.0 518.6,333.4 519.1,331.8 518.8,330.6 519.0,330.7 519.2,329.0 519.5,327.9 519.3,326.2 519.4,326.3 519.7,325.5 520.1,324.1 520.0,323.1 519.9,320.9 520.3,320.5 520.2,319.0 520.5,318.3 522.1,319.3 522.0,318.9 522.6,317.9 522.9,315.9 522.9,314.7 523.1,314.5 523.0,311.9 523.2,311.8 523.5,309.7 523.7,309.5 524.3,309.1 524.6,306.6 525.3,306.6 525.3,305.2 526.0,304.6 526.8,306.3 527.4,306.5 528.0,306.2 528.9,307.6 529.4,308.4 529.2,309.7 529.5,310.0 529.9,311.7 530.2,312.9 530.4,312.6 530.8,313.6 530.9,315.4 531.1,314.2 531.3,313.7 531.3,312.6 531.7,311.2 531.6,310.9 532.0,308.4 532.0,309.0 532.2,306.9 532.7,306.6 532.8,305.4 532.7,303.3 533.3,303.5 533.0,301.1 533.3,301.6 533.5,300.1 533.8,298.8 534.4,300.1 534.7,300.3 534.7,300.7 535.4,301.9 535.9,304.1 535.9,305.3 536.2,305.6 536.8,306.6 537.5,306.9 538.7,305.6 539.0,307.3 538.7,308.3 539.1,309.2 539.2,309.9 539.4,311.3 539.3,311.0 539.7,312.5 539.7,313.0 540.0,314.1 540.2,316.4 540.2,316.3 540.4,317.5 540.4,318.4 540.8,320.1 540.6,320.4 541.0,322.7 541.2,322.5 541.0,323.8 541.2,325.2 541.4,323.6 541.4,323.9 541.6,321.3 541.3,320.5 541.7,320.2 541.6,319.0 541.7,318.2 541.8,317.7 541.9,316.5 542.1,315.5 542.1,313.2 542.1,313.5 542.1,312.5 542.0,311.6 542.2,310.2 542.2,308.5 542.3,307.5 542.2,306.7 542.7,306.0 542.8,305.1 542.6,303.7 542.9,303.5 542.9,301.3 542.8,300.5 542.8,299.1 543.3,299.2 543.1,297.9 543.4,297.1 543.5,295.5 543.3,294.9 543.5,293.6 543.6,292.4 544.0,290.7 543.9,290.5 544.0,289.9 544.1,288.9 544.3,287.9 544.3,286.1 544.9,284.4 545.9,285.2 546.8,283.2 547.6,281.9 548.9,283.3 549.8,281.2 550.6,281.4 551.8,282.4 552.7,282.2 553.0,281.5 553.0,279.5 553.1,279.2 553.4,277.3 553.9,276.9 553.9,275.8 554.1,274.4 555.4,275.0 556.6,274.4 556.7,274.7 556.7,275.7 557.1,277.0 557.1,278.6 557.7,280.0 557.6,281.3 557.7,281.1 558.0,282.7 558.3,283.9 558.5,284.3 558.6,286.1 559.0,284.8 559.2,283.3 559.4,282.7 559.6,282.7 559.7,280.8 559.6,279.7 560.3,278.6 560.4,278.4 560.5,277.3 561.6,276.9 562.5,278.3 562.6,278.5 563.3,280.0 563.4,281.4 563.4,281.4 563.6,283.9 563.9,285.1 564.4,285.2 565.1,286.5 565.7,287.4 566.5,287.0 567.3,288.1 568.3,287.7 569.2,290.2 570.3,290.0 570.5,288.8 571.1,287.5 571.1,286.5 571.5,285.9 572.0,285.1 572.2,284.2 573.0,284.1 573.5,286.9 573.9,286.0 574.6,287.2 575.2,289.0 575.7,290.4 576.0,290.1 576.7,291.2 577.1,292.8 577.5,293.0 578.1,294.8 578.7,295.9 579.1,294.9 578.9,293.3 579.4,292.8 579.6,292.4 579.8,289.9 580.1,289.5 579.9,287.8 580.4,286.8 580.2,285.9 580.6,285.2 580.9,284.1 580.9,282.4 580.9,281.7 580.9,281.3 581.1,279.3 581.5,278.8 581.2,277.0 581.5,276.8 581.3,275.7 581.8,274.7 581.7,273.6 581.9,272.8 582.0,271.5 582.8,271.6 584.2,270.7 585.1,269.0 585.9,268.6 586.4,269.0 586.3,270.7 586.9,270.7 586.9,271.6 587.3,272.7 587.4,274.9 587.9,276.2 588.1,276.7 588.4,277.3 588.7,277.3 589.3,275.3 589.9,275.4 590.4,273.4 591.2,275.4 592.1,274.2 593.0,274.9 593.7,276.4 594.9,276.5 595.5,278.2 596.5,276.8 597.6,277.3 598.6,277.1 599.6,275.7 600.9,275.4 601.7,277.2 602.9,277.3 602.7,278.5 603.0,279.3 603.2,280.8 603.1,281.1 603.1,283.3 603.2,283.0 603.5,284.8 603.8,285.0 603.5,286.2 603.8,287.7 603.8,289.5 604.0,290.5 604.2,290.6 604.1,292.0 605.4,291.7 606.1,293.2 607.4,292.0 607.4,290.1 607.7,289.6 608.3,289.7 608.3,288.1 608.7,287.6 608.8,286.1 609.2,287.1 609.2,287.6 609.8,289.2 610.2,290.8 610.6,290.4 610.7,292.0 611.1,293.9 612.0,293.2 612.7,294.4 613.2,295.9 613.4,294.7 614.0,294.3 614.1,293.5 614.8,291.9 615.2,291.6 615.2,290.0 615.9,289.5 616.2,288.1 617.0,288.0 617.9,290.3 618.2,290.1 619.1,291.0 619.7,289.4 619.9,290.0 620.5,287.5 620.9,286.8 621.3,286.7 621.4,284.6 622.0,284.2 622.5,284.6 623.0,285.3 623.8,286.9 624.2,288.2 625.0,289.0 625.5,288.2 625.6,287.5 625.9,285.5 626.3,284.2 626.7,283.5 626.9,283.2 627.0,282.9 627.4,281.7 627.5,280.2 627.7,279.8 627.7,278.3 627.9,276.4 628.3,275.9 628.5,275.3 628.6,273.1 628.5,272.6 628.9,271.5 629.1,270.1 628.9,268.6 629.1,268.6 629.1,266.8 629.3,266.6 629.8,264.4 629.5,264.8 630.0,262.5 629.8,262.0 629.9,260.8 630.1,259.5 630.2,258.8 630.8,256.8 631.8,255.8 632.8,255.9 633.6,255.6 634.1,255.1 635.1,253.2 635.7,252.9 636.1,251.2 636.7,250.9 636.6,249.1 637.3,248.5 637.6,247.7 638.7,247.6 639.7,249.8 640.5,249.6 641.1,249.0 641.9,248.6 643.0,248.0 643.5,245.4 644.4,245.7 644.6,244.8 644.5,243.1 644.9,241.9 645.1,241.1 645.0,240.4 645.3,239.9 645.2,238.8 645.5,237.1 645.8,236.7 646.0,236.0 645.9,234.0 646.3,232.9 646.2,231.8 646.7,231.8 646.8,231.0 647.0,228.8 647.0,228.1 647.3,229.5 647.5,230.3 647.9,230.1 648.5,231.3 649.1,233.8 649.3,234.0 649.8,232.4 650.1,232.0 650.8,230.8 651.3,230.1 651.9,228.2 652.2,228.1 652.7,228.5 653.7,228.9 654.5,229.6 655.2,231.0 655.7,230.0 656.5,229.7 656.9,228.0 657.7,228.1 658.1,226.2 658.5,224.4 658.7,224.5 658.9,222.3 659.6,223.1 659.5,221.2 660.0,220.3 660.3,220.9 660.2,222.7 660.7,223.1 660.6,224.0 660.8,226.0 661.0,225.8 661.5,226.5 661.4,227.4 661.6,229.2 662.0,230.1 662.5,230.4 662.6,232.6 663.1,232.7 663.3,233.5 664.1,234.2 664.1,236.5 664.8,237.8 664.9,238.8 665.3,238.9 665.6,237.5 665.9,237.4 666.3,235.3 666.3,235.9 666.5,234.6 667.0,232.5 667.2,232.0 667.9,230.4 667.9,230.1 669.2,229.2 669.9,230.2 671.2,229.1 671.2,227.5 671.4,227.6 671.8,226.2 671.5,225.4 671.9,224.6 672.2,222.7 672.2,222.5 672.1,220.7 672.3,219.6 672.4,218.2 672.4,218.5 672.7,217.0 673.0,216.2 672.8,215.5 673.2,214.6 673.3,213.1 673.5,211.3 673.5,210.4 673.7,209.0 673.7,208.6 674.4,207.2 675.2,206.3 675.7,205.7 676.8,207.5 677.6,207.6 677.9,206.0 678.0,206.0 678.0,204.8 677.7,204.1 678.1,202.4 678.1,202.0 678.4,201.1 678.2,199.2 678.3,197.8 678.4,196.6 678.7,196.0 678.5,194.7 678.9,193.9 678.9,193.2 679.1,193.1 679.0,191.5 679.3,190.2 679.4,189.7 679.2,188.9 679.5,186.6 679.6,186.8 679.6,185.2 679.9,184.2 680.1,184.0 680.4,181.7 680.5,181.0 681.1,180.7 680.9,180.1 681.1,178.5 681.6,177.8 681.8,175.6 682.1,175.4 682.4,175.0 682.7,173.2 682.7,172.9 683.2,170.9 683.5,171.4 683.5,169.3 683.9,169.3 683.9,167.2 684.2,167.0 684.4,165.7 684.8,164.6 685.0,165.9 684.9,167.5 685.5,167.8 685.6,168.2 685.8,169.9 685.8,171.4 685.8,172.6 685.9,172.1 686.2,174.6 686.5,175.7 686.5,176.7 686.7,176.4 686.9,178.6 686.9,179.3 687.0,179.7 687.2,181.2 687.4,182.2 687.6,180.5 687.6,180.0 688.2,179.7 688.2,177.8 688.5,176.7 688.8,177.1 688.8,175.5 689.3,174.8 689.5,173.8 689.5,173.1 690.1,170.6 690.3,170.4 690.3,169.5 690.4,169.6 691.1,171.8 691.1,172.4 691.7,174.4 691.9,175.0 692.2,174.8 692.7,176.4 692.8,175.3 693.3,174.1 693.4,172.9 693.6,171.9 694.0,171.5 694.2,170.5 694.6,170.5 694.9,169.4 695.2,167.6 695.6,168.0 696.0,168.8 696.2,169.7 696.8,172.5 697.1,172.5 697.3,173.3 697.5,174.4 697.8,175.5 697.7,177.4 698.1,177.0 698.5,179.3 698.4,180.2 698.9,180.9 698.9,181.8 699.1,183.2 699.4,182.5 699.7,182.1 699.7,180.0 700.3,179.8 700.4,178.7 700.5,178.2 700.9,176.2 701.1,175.4 701.2,175.6 701.8,177.9 701.7,178.0 702.2,179.3 702.4,181.0 702.7,181.3 703.0,182.2 703.4,183.6 703.4,184.1 703.5,185.7 703.9,186.2 703.9,187.6 704.1,189.6 704.4,190.0 704.7,188.6 704.9,188.7 705.1,187.4 705.3,185.5 705.6,185.7 705.9,183.6 706.1,182.7 706.7,182.6 706.9,181.2 707.8,183.3 708.3,184.2 708.9,184.2 708.9,183.9 709.3,181.6 709.6,181.7 709.6,179.3 710.1,179.4 710.1,178.8 710.0,176.1 710.3,175.0 710.7,175.1 710.6,173.2 710.9,173.0 711.3,172.6 711.3,171.5 711.6,169.4 711.8,168.6 712.4,168.6 713.5,171.3 714.1,169.9 714.7,171.5 715.3,169.7 716.1,170.1 716.7,168.6 717.7,167.6 718.4,167.5 718.8,170.2 719.5,170.4 720.2,171.7 720.6,172.5 721.0,173.2 721.8,175.2 722.3,175.5 722.4,175.7 723.0,177.7 723.5,178.3 723.6,179.9 724.4,180.3 724.3,181.8 724.9,182.5 725.3,183.6 725.6,185.1 726.3,186.0 726.4,186.1 727.5,184.7 728.4,184.2 728.6,184.8 729.1,186.9 729.2,188.0 729.6,188.8 729.4,190.0 729.6,190.8 729.8,192.3 730.2,192.3 730.7,193.0 730.9,195.3 730.9,195.9 731.0,195.4 731.5,194.7 731.7,192.8 732.2,191.2 732.4,190.3 732.4,189.3 733.0,188.9 733.1,187.6 733.3,187.1 733.6,186.3 733.4,185.0 733.9,183.4 734.1,182.5 734.1,182.5 734.6,181.6 734.5,179.8 734.8,179.0 734.8,178.2 735.0,177.2 735.2,175.4 735.8,173.5 736.6,172.6 737.2,171.4 737.8,171.5 738.3,172.6 738.5,172.7 738.7,174.2 738.8,176.0 739.0,176.3 739.3,178.0 740.0,177.4 740.1,179.3 740.2,180.3 740.4,181.7 740.4,183.1 740.4,182.8 740.8,183.8 740.6,185.5 740.8,186.0 741.2,187.5 741.2,188.2 741.4,189.2 741.5,190.9 741.7,192.2 741.6,192.8 741.8,193.7 741.6,195.5 742.0,196.1 742.1,196.4 742.1,197.9 742.3,197.4 742.7,196.5 742.5,195.0 742.9,193.4 742.9,191.9 743.2,191.4 743.3,190.1 743.6,189.7 743.9,187.6 744.0,187.1 744.9,187.8 745.6,190.2 746.0,190.0 746.1,189.2 746.8,187.8 746.9,186.7 746.9,185.5 747.3,184.7 747.8,184.3 748.3,183.6 748.3,183.1 748.7,181.4 748.9,180.3 749.3,181.6 749.4,182.5 749.6,184.1 749.8,185.1 750.0,184.3 750.5,185.6 750.7,186.4 751.2,188.4 751.2,189.1 752.2,191.1 753.2,191.5 753.8,192.0 754.1,192.2 754.0,194.1 754.6,195.0 754.6,195.6 754.8,198.3 755.0,199.3 755.2,199.8 755.2,198.2 755.5,198.3 755.8,197.4 756.1,196.2 756.5,194.1 756.9,193.2 757.0,191.5 757.4,192.1 757.3,190.6 757.7,189.1 757.9,187.4 758.3,187.5 758.9,187.1 759.2,185.4 759.4,183.5 759.7,183.3 759.9,183.0 760.2,180.6 760.6,180.3 761.2,178.7 762.1,179.6 762.7,178.1 763.6,177.3 763.8,178.4 764.0,179.3 764.0,179.4 764.4,180.7 764.8,181.7 765.0,182.7 764.9,184.1 765.2,184.8 765.5,186.1 766.6,184.4 767.5,184.2 767.8,183.8 768.0,182.3 768.4,181.5 768.3,179.5 768.5,179.0 768.7,178.6 769.2,177.0 769.4,177.2 769.5,174.8 769.8,174.1 770.4,173.9 770.4,172.5 771.3,172.2 772.1,172.7 773.3,174.4 773.7,173.7 773.5,172.7 773.7,171.5 774.0,169.8 774.4,169.9 774.5,167.9 774.8,167.4 775.0,165.8 775.3,164.7 775.3,164.6 775.5,165.4 775.8,165.8 776.3,168.5 776.5,168.1 777.0,169.0 777.2,170.5 777.3,169.8 777.5,167.8 777.5,167.4 778.1,167.0 777.8,165.2 778.2,163.6 778.5,163.1 778.7,161.7 778.9,161.5 778.9,159.3 779.0,158.2 779.2,157.8 779.3,157.1 779.3,156.5 779.1,155.1 779.6,153.1 779.4,152.0 779.5,152.1 779.5,151.0 779.5,150.0 779.5,149.4 779.7,146.9 779.5,147.0 780.0,145.9 779.7,145.2 780.0,143.0 779.9,142.9 780.0,141.6 780.1,139.7 780.6,140.4 781.2,138.3 781.5,138.3 781.8,136.9 782.0,135.8 782.4,135.1 782.6,134.0 782.5,132.9 782.8,131.6 783.0,130.9 783.3,129.4 783.4,129.0 783.7,127.8 783.9,127.0 784.2,127.4 784.4,128.6 784.7,130.3 785.0,131.0 784.9,132.7 785.3,132.9 785.7,131.7 785.9,130.7 786.5,130.6 786.8,129.4 787.0,127.9 787.5,126.6 787.9,126.0 788.8,127.4 790.0,126.5 790.8,128.0 790.9,127.6 791.4,126.4 791.7,125.4 791.7,123.2 792.0,122.2 792.6,122.2 792.7,122.0 793.1,119.6 793.1,118.4 793.6,118.6 793.7,117.2 793.9,118.0 793.9,119.3 794.3,121.1 794.5,122.1 794.5,122.4 794.6,124.4 794.7,124.0 794.9,126.4 795.4,126.4 795.5,128.5 795.5,128.3 795.7,129.9 796.7,130.6 797.2,132.9 798.2,132.9 798.4,131.7 798.6,130.5 798.6,129.8 798.9,128.1 799.1,128.5 799.3,127.3 799.7,125.5 799.6,125.4 800.1,123.7 800.2,123.1 800.2,124.8 800.8,124.8 800.8,126.4 800.9,126.6 801.1,128.7 801.4,129.5 801.3,130.1 801.6,131.5 801.8,133.4 802.1,133.8 802.6,134.0 803.3,132.7 804.1,130.9 804.2,130.0 804.5,127.9 804.9,128.3 804.9,127.1 805.2,126.4 805.3,124.3 805.6,123.6 806.1,123.0 806.2,121.1 806.4,120.2 807.5,118.5 808.2,119.6 809.3,118.2 809.7,120.2 810.0,120.1 810.5,120.1 810.8,121.3 811.4,123.0 811.9,124.1 812.6,124.4 813.3,125.7 814.1,125.6 814.5,127.2 815.2,128.0 816.1,129.4 817.0,129.7 818.1,128.9 818.8,129.5 819.8,131.1 820.5,131.9 820.5,132.2 821.0,133.8 820.7,135.3 821.1,135.8 821.1,137.7 821.2,138.0 821.7,139.0 821.5,139.7 821.8,141.6 821.8,142.2 821.9,143.9 822.1,145.0 822.2,145.9 822.4,146.5 822.3,145.0 822.8,144.7 822.8,143.4 822.8,141.8 822.7,141.5 823.1,139.8 823.1,138.6 823.2,137.6 823.2,136.8 823.3,135.4 823.4,135.2 823.3,133.6 823.6,132.9 823.9,134.1 824.0,135.5 824.2,135.6 824.3,137.8 824.6,138.7 824.7,139.2 825.2,141.0 825.2,140.8 825.4,141.7 825.5,143.6 825.9,145.5 825.9,145.4 826.1,146.3 826.3,148.0 826.0,149.7 826.4,150.7 826.7,151.3 826.9,151.8 826.9,153.4 827.4,152.1 827.3,151.1 827.7,149.6 828.3,148.7 828.4,148.1 828.9,147.5 829.2,147.4 829.9,146.3 830.4,144.4 830.7,143.1 831.2,143.2 831.4,141.6 831.9,142.0 832.0,144.4 832.6,144.8 833.1,144.8 833.5,146.4 833.8,147.5 834.4,146.4 834.6,146.5 835.1,145.1 835.7,143.6 836.0,144.2 836.1,145.5 836.0,146.2 836.5,147.5 836.4,148.8 836.3,150.3 836.8,151.5 836.8,151.4 836.9,153.4 837.2,153.9 837.3,154.5 837.6,156.1 837.6,157.6 837.7,158.2 837.7,157.5 838.0,156.6 838.0,154.6 838.5,153.9 838.5,153.0 838.6,151.7 838.7,151.3 839.0,150.3 839.3,148.8 839.5,146.9 839.6,146.5 840.7,145.0 841.6,144.6 842.0,144.1 842.1,143.2 842.2,142.0 842.7,140.1 842.5,139.6 842.9,138.1 842.9,138.4 843.2,136.1 843.5,135.8 843.7,135.0 844.1,133.8 844.7,132.7 845.1,132.6 845.5,130.9 846.2,131.4 847.3,128.3 848.4,128.9 848.8,127.9 848.9,126.2 849.3,125.3 849.5,124.1 849.7,123.7 849.8,122.3 849.9,121.6 850.4,120.2 851.7,118.7 852.9,119.2 853.3,118.7 853.4,117.9 854.1,115.4 854.1,114.4 854.4,113.5 854.9,112.8 855.2,112.3 855.6,113.2 856.1,114.9 856.8,114.4 857.2,116.2 857.5,116.2 858.0,117.4 858.7,119.8 859.3,119.5 859.5,121.1 859.6,120.6 860.1,120.0 860.4,117.8 860.6,118.1 861.1,116.1 861.4,115.8 861.9,114.2 862.1,113.3 862.6,114.1 863.5,115.0 864.1,116.4 864.6,117.2 865.1,118.3 865.4,119.3 866.2,119.2 866.5,121.9 867.0,122.1 867.7,120.1 867.9,120.4 868.4,119.1 868.5,117.8 869.2,117.7 869.3,116.6 869.9,115.3 871.1,115.1 871.9,113.8 873.2,113.3 873.3,112.4 873.6,110.5 874.0,109.7 874.3,108.7 874.4,108.5 874.4,107.3 874.6,106.6 874.8,105.2 875.2,103.1 875.4,102.7 875.7,101.6 876.7,101.2 877.7,102.4 878.7,103.6 879.9,102.9 880.6,102.1 881.6,102.6 882.1,103.2 882.2,105.2 882.4,106.0 882.6,105.7 882.8,107.4 883.5,107.9 883.6,109.4 883.9,108.9 884.1,106.8 884.6,106.3 885.1,106.3 885.1,104.6 885.5,102.6 885.9,103.4 886.1,101.7 886.7,99.7 886.9,99.6 887.5,99.8 887.5,102.0 887.7,102.3 888.1,103.5 888.4,103.8 888.9,104.7 889.4,106.5 889.9,106.7 890.9,107.6 891.7,109.2 892.3,110.4 892.6,110.8 893.3,111.4 893.6,112.5 894.1,114.1 894.3,115.3 894.8,115.1 895.1,112.4 895.8,112.5 896.3,110.9 896.7,109.7 897.2,109.4 897.9,107.9 898.7,107.0 899.3,106.8 900.2,105.5 900.8,107.0 901.7,106.1 902.5,107.5 902.6,108.6 903.0,110.2 903.2,110.7 903.8,111.6 904.1,113.9 904.1,114.3 904.6,114.0 904.4,112.8 904.8,110.6 905.2,110.4 905.3,109.2 905.1,108.7 905.4,106.5 905.8,105.4 905.9,105.2 906.0,104.1 906.2,102.7 906.7,102.0 906.6,100.1 907.0,99.6 908.2,98.4 908.9,97.7 909.1,98.5 909.4,100.1 909.6,100.5 909.7,101.6 909.7,103.4 910.3,104.1 910.5,104.5 910.7,105.1 910.8,106.9 910.9,107.5 911.4,109.1 911.6,109.0 911.9,110.4 911.9,111.1 912.4,113.0 912.7,113.7 912.7,113.6 913.2,114.7 913.4,116.2 913.6,114.5 913.8,114.7 914.2,114.0 914.5,113.0 914.8,110.9 915.1,109.4 915.5,109.1 915.8,108.4 916.3,110.3 917.3,109.2 918.1,111.4 918.6,111.9 918.4,112.5 918.6,114.7 919.0,115.3 919.1,115.9 919.7,117.0 919.9,119.0 919.7,119.9 920.1,120.2 920.8,119.7 922.0,118.2 922.3,119.6 922.4,120.9 922.4,121.4 922.6,122.2 922.8,123.8 923.2,125.0 923.4,125.7 923.7,127.2 923.7,127.3 924.1,128.5 923.8,129.5 924.3,131.6 924.5,132.1 924.6,132.9 925.0,134.4 924.9,134.9 925.2,135.7 925.0,137.3 925.5,137.7 925.6,139.9 925.5,139.6 925.9,141.0 926.2,143.2 926.2,143.9 926.4,143.9 926.5,145.5 927.0,143.8 926.7,143.3 926.9,142.2 927.3,142.0 927.6,140.7 928.0,139.2 927.9,137.6 928.3,136.7 928.5,135.8 929.5,136.8 930.4,137.7 930.8,137.0 931.6,135.1 931.8,133.7 932.4,133.8 932.8,133.8 933.6,136.6 934.3,136.8" fill="none" stroke="#15161a" stroke-width="1.8" stroke-linejoin="round" stroke-linecap="round"/>
<line x1="86.5" x2="935.5" y1="526" y2="526" stroke="#e3e3e3" stroke-width="1"/>
<line x1="81.5" x2="81.5" y1="77" y2="526" stroke="#1c1c1c" stroke-width="1.6"/>
<line x1="941" x2="941" y1="77" y2="526" stroke="#adb7de" stroke-width="1.6"/>
<line x1="87.4" x2="87.4" y1="526.5" y2="530" stroke="#e9e9e9" stroke-width="1"/>
<text x="65.5" y="544.9" font-size="11.5" fill="#666" text-anchor="start" font-weight="normal" textLength="43.8" lengthAdjust="spacingAndGlyphs">2020 Jan</text>
<line x1="158" x2="158" y1="526.5" y2="530" stroke="#e9e9e9" stroke-width="1"/>
<text x="138.0" y="544.9" font-size="11.5" fill="#666" text-anchor="start" font-weight="normal" textLength="40" lengthAdjust="spacingAndGlyphs">2020 Jul</text>
<line x1="230.2" x2="230.2" y1="526.5" y2="530" stroke="#e9e9e9" stroke-width="1"/>
<text x="208.29999999999998" y="544.9" font-size="11.5" fill="#666" text-anchor="start" font-weight="normal" textLength="43.8" lengthAdjust="spacingAndGlyphs">2021 Jan</text>
<line x1="301" x2="301" y1="526.5" y2="530" stroke="#e9e9e9" stroke-width="1"/>
<text x="281.0" y="544.9" font-size="11.5" fill="#666" text-anchor="start" font-weight="normal" textLength="40" lengthAdjust="spacingAndGlyphs">2021 Jul</text>
<line x1="372.5" x2="372.5" y1="526.5" y2="530" stroke="#e9e9e9" stroke-width="1"/>
<text x="350.6" y="544.9" font-size="11.5" fill="#666" text-anchor="start" font-weight="normal" textLength="43.8" lengthAdjust="spacingAndGlyphs">2022 Jan</text>
<line x1="443.5" x2="443.5" y1="526.5" y2="530" stroke="#e9e9e9" stroke-width="1"/>
<text x="423.5" y="544.9" font-size="11.5" fill="#666" text-anchor="start" font-weight="normal" textLength="40" lengthAdjust="spacingAndGlyphs">2022 Jul</text>
<line x1="514.5" x2="514.5" y1="526.5" y2="530" stroke="#e9e9e9" stroke-width="1"/>
<text x="492.6" y="544.9" font-size="11.5" fill="#666" text-anchor="start" font-weight="normal" textLength="43.8" lengthAdjust="spacingAndGlyphs">2023 Jan</text>
<line x1="585.5" x2="585.5" y1="526.5" y2="530" stroke="#e9e9e9" stroke-width="1"/>
<text x="565.5" y="544.9" font-size="11.5" fill="#666" text-anchor="start" font-weight="normal" textLength="40" lengthAdjust="spacingAndGlyphs">2023 Jul</text>
<line x1="657" x2="657" y1="526.5" y2="530" stroke="#e9e9e9" stroke-width="1"/>
<text x="635.1" y="544.9" font-size="11.5" fill="#666" text-anchor="start" font-weight="normal" textLength="43.8" lengthAdjust="spacingAndGlyphs">2024 Jan</text>
<line x1="728" x2="728" y1="526.5" y2="530" stroke="#e9e9e9" stroke-width="1"/>
<text x="708.0" y="544.9" font-size="11.5" fill="#666" text-anchor="start" font-weight="normal" textLength="40" lengthAdjust="spacingAndGlyphs">2024 Jul</text>
<line x1="799.5" x2="799.5" y1="526.5" y2="530" stroke="#e9e9e9" stroke-width="1"/>
<text x="777.6" y="544.9" font-size="11.5" fill="#666" text-anchor="start" font-weight="normal" textLength="43.8" lengthAdjust="spacingAndGlyphs">2025 Jan</text>
<line x1="870.5" x2="870.5" y1="526.5" y2="530" stroke="#e9e9e9" stroke-width="1"/>
<text x="850.5" y="544.9" font-size="11.5" fill="#666" text-anchor="start" font-weight="normal" textLength="40" lengthAdjust="spacingAndGlyphs">2025 Jul</text>
<text x="72.2" y="129.0" font-size="13.3" fill="#1a1a1a" text-anchor="end" font-weight="normal">100K</text>
<text x="72.2" y="157.0" font-size="13.3" fill="#1a1a1a" text-anchor="end" font-weight="normal">80K</text>
<text x="72.2" y="192.9" font-size="13.3" fill="#1a1a1a" text-anchor="end" font-weight="normal">60K</text>
<text x="72.2" y="243.5" font-size="13.3" fill="#1a1a1a" text-anchor="end" font-weight="normal">40K</text>
<text x="72.2" y="329.8" font-size="13.3" fill="#1a1a1a" text-anchor="end" font-weight="normal">20K</text>
<text x="72.2" y="416.6" font-size="13.3" fill="#1a1a1a" text-anchor="end" font-weight="normal">10K</text>
<text x="72.2" y="443.8" font-size="13.3" fill="#1a1a1a" text-anchor="end" font-weight="normal">8K</text>
<text x="72.2" y="479.6" font-size="13.3" fill="#1a1a1a" text-anchor="end" font-weight="normal">6K</text>
<text x="72.2" y="530.9" font-size="13.3" fill="#1a1a1a" text-anchor="end" font-weight="normal">4K</text>
<text x="950.3" y="171.10000000000002" font-size="12.8" fill="#1a1a1a" text-anchor="start" font-weight="normal" textLength="26.8" lengthAdjust="spacingAndGlyphs">1.2M</text>
<text x="950.3" y="287.8" font-size="12.8" fill="#1a1a1a" text-anchor="start" font-weight="normal" textLength="7.8" lengthAdjust="spacingAndGlyphs">0</text>
<text x="950.3" y="405.0" font-size="12.8" fill="#1a1a1a" text-anchor="start" font-weight="normal" textLength="32.6" lengthAdjust="spacingAndGlyphs">-1.2M</text>
<text x="950.3" y="521.4" font-size="12.8" fill="#1a1a1a" text-anchor="start" font-weight="normal" textLength="33.6" lengthAdjust="spacingAndGlyphs">-2.4M</text>
<text transform="translate(33.4,300.6) rotate(-90)" font-size="13.4" fill="#222" text-anchor="middle" textLength="48.8" lengthAdjust="spacingAndGlyphs">Price ($)</text>
<text transform="translate(997,301.2) rotate(90)" font-size="13.4" fill="#222" text-anchor="middle" textLength="221.6" lengthAdjust="spacingAndGlyphs">Apparent Demand Growth (# of Bitcoin)</text>
<text x="287.5" y="33" font-size="20.5" fill="#111" text-anchor="start" font-weight="bold" textLength="72" lengthAdjust="spacingAndGlyphs">Bitcoin:</text>
<text x="364" y="33" font-size="20.5" fill="#111" text-anchor="start" font-weight="bold" textLength="90" lengthAdjust="spacingAndGlyphs">Apparent</text>
<text x="460" y="33" font-size="20.5" fill="#111" text-anchor="start" font-weight="bold" textLength="81" lengthAdjust="spacingAndGlyphs">Demand</text>
<text x="546" y="33" font-size="20.5" fill="#111" text-anchor="start" font-weight="bold" textLength="68.8" lengthAdjust="spacingAndGlyphs">Growth</text>
<text x="620.6" y="33" font-size="20.5" fill="#111" text-anchor="start" font-weight="bold" textLength="20.8" lengthAdjust="spacingAndGlyphs">(#</text>
<text x="647.5" y="33" font-size="20.5" fill="#111" text-anchor="start" font-weight="bold" textLength="16.5" lengthAdjust="spacingAndGlyphs">of</text>
<text x="670" y="33" font-size="20.5" fill="#111" text-anchor="start" font-weight="bold" textLength="72.5" lengthAdjust="spacingAndGlyphs">Bitcoin)</text>
<circle cx="44.6" cy="53.3" r="6.35" fill="#9db1e6"/>
<text x="56" y="59.3" font-size="13.2" fill="#222" text-anchor="start" font-weight="normal" textLength="149.5" lengthAdjust="spacingAndGlyphs" stroke="#222" stroke-width="0.3">Apparent Demand (1-year)</text>
<line x1="223" x2="236" y1="55" y2="55" stroke="#d9e0f2" stroke-width="1.2"/>
<text x="242" y="59.3" font-size="13.2" fill="#222" text-anchor="start" font-weight="normal" textLength="207" lengthAdjust="spacingAndGlyphs" stroke="#222" stroke-width="0.3">Apparent Demand (1-year)-SMA(90)</text>
<line x1="466.5" x2="482" y1="55.3" y2="55.3" stroke="#222" stroke-width="1.6"/>
<text x="485.5" y="59.3" font-size="13.2" fill="#222" text-anchor="start" font-weight="normal" textLength="27.5" lengthAdjust="spacingAndGlyphs" stroke="#222" stroke-width="0.3">Price</text>
<circle cx="536.2" cy="53.3" r="6.35" fill="#787886"/>
<text x="547.5" y="59.3" font-size="13.2" fill="#7b7b86" text-anchor="start" font-weight="normal" textLength="209" lengthAdjust="spacingAndGlyphs" stroke="#7b7b86" stroke-width="0.3">Negative Apparent Demand (30-day)</text>
<line x1="547.5" x2="756.5" y1="54.4" y2="54.4" stroke="#777784" stroke-width="1.3"/>
<circle cx="780.3" cy="53.3" r="6.35" fill="#787886"/>
<text x="790.6" y="59.3" font-size="13.2" fill="#7b7b86" text-anchor="start" font-weight="normal" textLength="203.2" lengthAdjust="spacingAndGlyphs" stroke="#7b7b86" stroke-width="0.3">Positive Apparent Demand (30-day)</text>
<line x1="790.6" x2="993.8" y1="54.4" y2="54.4" stroke="#777784" stroke-width="1.3"/>
<line x1="654.3" y1="269.5" x2="704.4" y2="201.9" stroke="#4e4e52" stroke-width="1.5"/><polygon points="708.9,195.9 706.6,206.0 699.9,201.0" fill="#5e5e62"/>
<line x1="753.8" y1="208.2" x2="773.9" y2="142.0" stroke="#4e4e52" stroke-width="1.5"/><polygon points="776.1,134.8 777.4,145.1 769.3,142.7" fill="#5e5e62"/>
<line x1="845.5" y1="203.3" x2="891.3" y2="167.7" stroke="#4e4e52" stroke-width="1.5"/><polygon points="897.2,163.1 892.3,172.2 887.1,165.6" fill="#5e5e62"/>
<text x="655.5" y="177.5" font-size="27" fill="#1a1a1a" text-anchor="start" font-weight="normal" textLength="20.5" lengthAdjust="spacingAndGlyphs">1.</text>
<text x="757.5" y="130" font-size="27" fill="#1a1a1a" text-anchor="start" font-weight="normal" textLength="20.5" lengthAdjust="spacingAndGlyphs">2.</text>
<text x="878" y="155.5" font-size="27" fill="#1a1a1a" text-anchor="start" font-weight="normal" textLength="21" lengthAdjust="spacingAndGlyphs">3.</text>
<text x="876.8" y="563.3" font-size="9.4" fill="#707070" text-anchor="start" font-weight="normal" textLength="129.2" lengthAdjust="spacingAndGlyphs">© CryptoQuant. All rights reserved</text>
</g></svg></body></html>
